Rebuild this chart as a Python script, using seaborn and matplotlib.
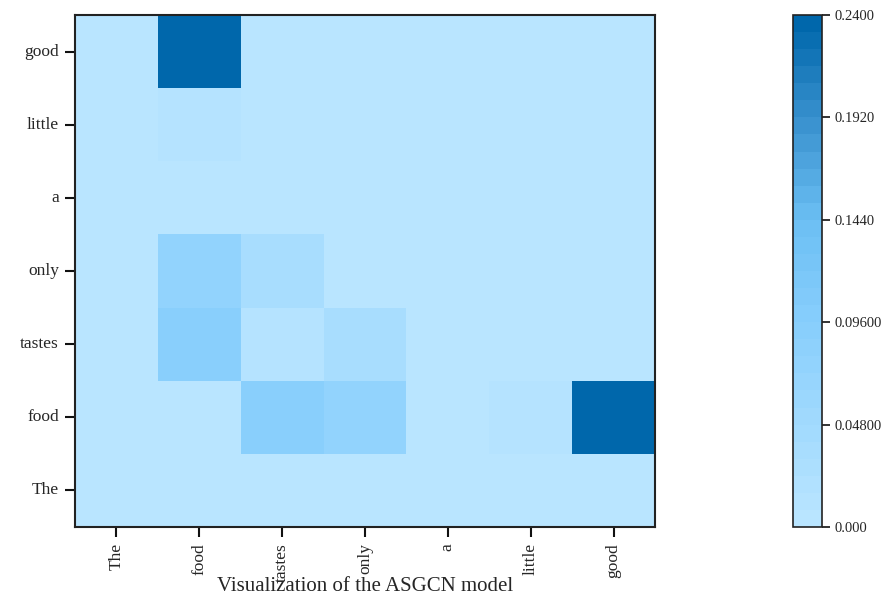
import numpy as np
import pandas as pd
import matplotlib
matplotlib.use("Agg")
import matplotlib.pyplot as plt
from matplotlib.colors import LinearSegmentedColormap, ListedColormap
import seaborn as sns

# Sentence tokens (columns left->right, rows top->bottom)
col_words = ["The", "food", "tastes", "only", "a", "little", "good"]
row_words = ["good", "little", "a", "only", "tastes", "food", "The"]

# Attention weights, one list per row (top to bottom)
row_good   = [0.006, 0.235, 0.005, 0.005, 0.005, 0.005, 0.005]
row_little = [0.005, 0.012, 0.005, 0.005, 0.005, 0.005, 0.005]
row_a      = [0.005, 0.005, 0.005, 0.005, 0.005, 0.005, 0.005]
row_only   = [0.005, 0.075, 0.035, 0.005, 0.005, 0.005, 0.005]
row_tastes = [0.005, 0.088, 0.008, 0.035, 0.005, 0.005, 0.005]
row_food   = [0.005, 0.005, 0.090, 0.078, 0.005, 0.013, 0.235]
row_the    = [0.005, 0.005, 0.005, 0.005, 0.005, 0.005, 0.005]

cbar_ticks = [0.0, 0.048, 0.096, 0.144, 0.192, 0.24]
cbar_ticklabels = ["0.000", "0.04800", "0.09600", "0.1440", "0.1920", "0.2400"]

data = pd.DataFrame(
    [row_good, row_little, row_a, row_only, row_tastes, row_food, row_the],
    index=row_words, columns=col_words,
)

base = LinearSegmentedColormap.from_list(
    "attn",
    [(0.0, "#b9e5ff"), (0.4, "#87cefc"), (0.6, "#6cbff4"),
     (0.8, "#3a92cf"), (1.0, "#0067ab")],
)
cmap = ListedColormap(base(np.linspace(0, 1, 30)))

sns.set_style("white")
plt.rcParams["font.family"] = ["Liberation Serif", "DejaVu Serif"]

fig = plt.figure(figsize=(8.88, 6.01), dpi=100)
W, H = 888, 601
ax = fig.add_axes([75 / W, (H - 527) / H, 580 / W, 512 / H])
cax = fig.add_axes([793 / W, (H - 527) / H, 29 / W, 512 / H])

sns.heatmap(data, ax=ax, cbar_ax=cax, cmap=cmap, vmin=0, vmax=0.24,
            linewidths=0, square=False)

for sp in ax.spines.values():
    sp.set_visible(True)
    sp.set_color("#222222")
    sp.set_linewidth(1.5)

ax.tick_params(axis="both", which="both", bottom=True, left=True,
               length=7, width=1.5, color="#111111", labelsize=12.5, pad=4.5)
ax.set_xticklabels(col_words, rotation=90, fontsize=12.5)
ax.set_yticklabels(row_words, rotation=0, fontsize=12.5)
ax.set_ylabel("")
ax.set_xlabel("Visualization of the ASGCN model", fontsize=15)
ax.xaxis.set_label_coords(0.5, -0.097)

cbar = ax.collections[0].colorbar
cbar.set_ticks(cbar_ticks)
cbar.set_ticklabels(cbar_ticklabels)
cbar.ax.tick_params(right=True, length=6, width=1.2, labelsize=10.5, pad=3,
                    color="#111111")
cbar.outline.set_visible(True)
cbar.outline.set_edgecolor("#222222")
cbar.outline.set_linewidth(1.2)

fig.savefig("out.png", dpi=100)
